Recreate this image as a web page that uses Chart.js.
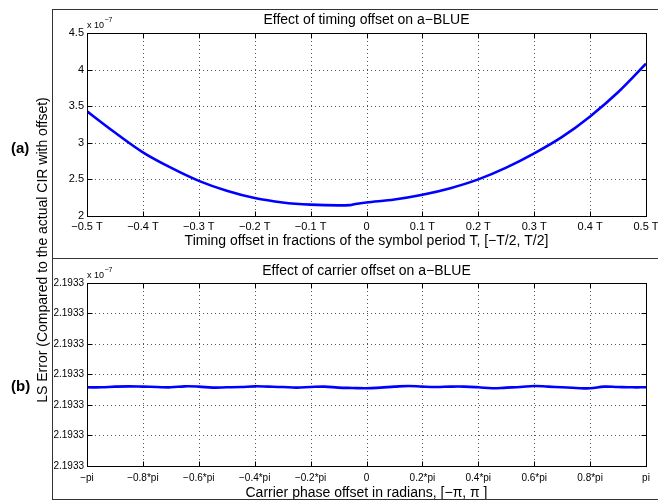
<!DOCTYPE html>
<html>
<head>
<meta charset="utf-8">
<script src="https://cdn.jsdelivr.net/npm/chart.js@4/dist/chart.umd.min.js"></script>
<style>
body { margin: 0; background: #fff; width: 658px; height: 502px; overflow: hidden; position: relative; font-family: "Liberation Sans", Arial, sans-serif; }
canvas { position: absolute; left: 0; }
#top { top: 0; }
#bot { top: 258px; }
.frame { position: absolute; pointer-events: none; }
#ylab { position: absolute; left: 42px; top: 250px; font-size: 14px; white-space: nowrap; transform: translate(-50%, -50%) rotate(-90deg); }
.tag { position: absolute; left: 11px; font-size: 15px; font-weight: bold; }
</style>
</head>
<body>
<canvas id="top" width="658" height="258"></canvas>
<canvas id="bot" width="658" height="244"></canvas>
<div class="frame" style="left:52px;top:9px;width:700px;height:489px;border:1px solid #333;"></div>
<div class="frame" style="left:52px;top:258px;width:700px;height:0;border-top:1px solid #333;"></div>
<div id="ylab">LS Error (Compared to the actual CIR with offset)</div>
<div class="tag" style="top:139px;">(a)</div>
<div class="tag" style="top:377px;">(b)</div>
<script>
// (a) timing offset, fractions of T ; LS error in units of 1e-7
const timingOffset = [-0.5, -0.45, -0.4, -0.35, -0.3, -0.25, -0.2, -0.15, -0.1, -0.05, -0.03, -0.02, 0, 0.05, 0.1, 0.15, 0.2, 0.25, 0.3, 0.35, 0.4, 0.45, 0.5];
const timingError = [3.43, 3.14, 2.87, 2.66, 2.48, 2.345, 2.245, 2.185, 2.155, 2.145, 2.148, 2.165, 2.185, 2.225, 2.29, 2.38, 2.5, 2.66, 2.855, 3.08, 3.36, 3.69, 4.08];
const xTicksA = [-0.5, -0.4, -0.3, -0.2, -0.1, 0, 0.1, 0.2, 0.3, 0.4, 0.5];
const xLabelsA = ['−0.5 T', '−0.4 T', '−0.3 T', '−0.2 T', '−0.1 T', '0', '0.1 T', '0.2 T', '0.3 T', '0.4 T', '0.5 T'];
const yTicksA = [2, 2.5, 3, 3.5, 4, 4.5];
const yLabelsA = ['2', '2.5', '3', '3.5', '4', '4.5'];

// (b) carrier phase offset, multiples of pi ; LS error in units of 1e-7
const phaseOffset = [-1, -0.95, -0.9, -0.85, -0.8, -0.75, -0.7, -0.65, -0.6, -0.55, -0.5, -0.45, -0.4, -0.35, -0.3, -0.25, -0.2, -0.15, -0.1, -0.05, 0,
  0.05, 0.1, 0.15, 0.2, 0.25, 0.3, 0.35, 0.4, 0.45, 0.5, 0.55, 0.6, 0.65, 0.7, 0.75, 0.8, 0.85, 0.9, 0.95, 1];
const phaseError = [2.19331290, 2.19331290, 2.19331301, 2.19331306, 2.19331301, 2.19331295, 2.19331290, 2.19331306, 2.19331301, 2.19331285,
  2.19331290, 2.19331295, 2.19331306, 2.19331301, 2.19331295, 2.19331285, 2.19331295, 2.19331301, 2.19331285, 2.19331279, 2.19331274,
  2.19331285, 2.19331301, 2.19331312, 2.19331301, 2.19331295, 2.19331301, 2.19331301, 2.19331290, 2.19331274, 2.19331285,
  2.19331295, 2.19331312, 2.19331301, 2.19331290, 2.19331279, 2.19331274, 2.19331301, 2.19331295, 2.19331290, 2.19331290];
const xTicksB = [-1, -0.8, -0.6, -0.4, -0.2, 0, 0.2, 0.4, 0.6, 0.8, 1];
const xLabelsB = ['−pi', '−0.8*pi', '−0.6*pi', '−0.4*pi', '−0.2*pi', '0', '0.2*pi', '0.4*pi', '0.6*pi', '0.8*pi', 'pi'];
const yTicksB = [2.193300, 2.193305, 2.193310, 2.193315, 2.193320, 2.193325, 2.193330];
const yLabelsB = yTicksB.map(v => v.toFixed(4));

const FONT = '"Liberation Sans", Arial, sans-serif';

// MATLAB-style axes: dotted grid, full box, inward ticks, labels and titles
const matlabAxes = {
  id: 'matlabAxes',
  beforeDatasetsDraw(chart, args, o) {
    const { ctx, chartArea: a, scales: { x, y } } = chart;
    ctx.save();
    ctx.strokeStyle = '#555';
    ctx.lineWidth = 1;
    ctx.setLineDash([1, 3]);
    ctx.beginPath();
    o.xTicks.forEach(v => {
      const px = Math.round(x.getPixelForValue(v)) + 0.5;
      ctx.moveTo(px, a.top); ctx.lineTo(px, a.bottom);
    });
    o.yTicks.forEach(v => {
      const py = Math.round(y.getPixelForValue(v)) + 0.5;
      ctx.moveTo(a.left, py); ctx.lineTo(a.right, py);
    });
    ctx.stroke();
    ctx.restore();
  },
  afterDatasetsDraw(chart, args, o) {
    const { ctx, chartArea: a, scales: { x, y } } = chart;
    const L = Math.round(a.left) + 0.5, R = Math.round(a.right) + 0.5;
    const T = Math.round(a.top) + 0.5, B = Math.round(a.bottom) + 0.5;
    ctx.save();
    ctx.strokeStyle = '#000';
    ctx.lineWidth = 1;
    ctx.strokeRect(L, T, R - L, B - T);
    ctx.beginPath();
    o.xTicks.forEach(v => {
      const px = Math.round(x.getPixelForValue(v)) + 0.5;
      ctx.moveTo(px, B); ctx.lineTo(px, B - 5);
      ctx.moveTo(px, T); ctx.lineTo(px, T + 5);
    });
    o.yTicks.forEach(v => {
      const py = Math.round(y.getPixelForValue(v)) + 0.5;
      ctx.moveTo(L, py); ctx.lineTo(L + 5, py);
      ctx.moveTo(R, py); ctx.lineTo(R - 5, py);
    });
    ctx.stroke();

    ctx.fillStyle = '#000';
    ctx.textBaseline = 'middle';
    ctx.textAlign = 'center';
    ctx.font = o.tickSize + 'px ' + FONT;
    o.xTicks.forEach((v, i) => ctx.fillText(o.xLabels[i], x.getPixelForValue(v), a.bottom + o.xTickGap));
    ctx.textAlign = 'right';
    o.yTicks.forEach((v, i) => ctx.fillText(o.yLabels[i], a.left - 3, y.getPixelForValue(v)));

    ctx.textAlign = 'center';
    ctx.font = '14px ' + FONT;
    const cx = (a.left + a.right) / 2;
    ctx.fillText(o.title, cx, o.titleY);
    ctx.fillText(o.xTitle, cx, o.xTitleY);

    // exponent note above the y axis
    ctx.textAlign = 'left';
    ctx.font = '9px ' + FONT;
    ctx.fillText('x 10', a.left, a.top - 7);
    const w = ctx.measureText('x 10').width;
    ctx.font = '7px ' + FONT;
    ctx.fillText('−7', a.left + w + 0.5, a.top - 13);
    ctx.restore();
  }
};

function fixedAxes(yw, xh) {
  return {
    x: { type: 'linear', display: true, grid: { display: false }, border: { display: false }, ticks: { display: false },
         afterFit: s => { s.height = xh; } },
    y: { type: 'linear', display: true, grid: { display: false }, border: { display: false }, ticks: { display: false },
         afterFit: s => { s.width = yw; } }
  };
}

const scalesA = fixedAxes(87, 42);
scalesA.x.min = -0.5; scalesA.x.max = 0.5;
scalesA.y.min = 2; scalesA.y.max = 4.5;

new Chart(document.getElementById('top'), {
  type: 'line',
  data: { datasets: [{ data: timingOffset.map((t, i) => ({ x: t, y: timingError[i] })),
    borderColor: '#0000ff', borderWidth: 2.6, pointRadius: 0, cubicInterpolationMode: 'monotone', fill: false }] },
  options: {
    responsive: false, animation: false,
    layout: { padding: { top: 33, right: 12, left: 0, bottom: 0 } },
    scales: scalesA,
    plugins: {
      legend: { display: false }, tooltip: { enabled: false },
      matlabAxes: { xTicks: xTicksA, xLabels: xLabelsA, yTicks: yTicksA, yLabels: yLabelsA, tickSize: 11, xTickGap: 11,
        title: 'Effect of timing offset on a−BLUE', titleY: 20,
        xTitle: 'Timing offset in fractions of the symbol period T, [−T/2, T/2]', xTitleY: 241 }
    }
  },
  plugins: [matlabAxes]
});

const scalesB = fixedAxes(87, 36);
scalesB.x.min = -1; scalesB.x.max = 1;
scalesB.y.min = 2.1933; scalesB.y.max = 2.19333;

new Chart(document.getElementById('bot'), {
  type: 'line',
  data: { datasets: [{ data: phaseOffset.map((p, i) => ({ x: p, y: phaseError[i] })),
    borderColor: '#0000ff', borderWidth: 2.6, pointRadius: 0, tension: 0.4, fill: false }] },
  options: {
    responsive: false, animation: false,
    layout: { padding: { top: 25, right: 12, left: 0, bottom: 0 } },
    scales: scalesB,
    plugins: {
      legend: { display: false }, tooltip: { enabled: false },
      matlabAxes: { xTicks: xTicksB, xLabels: xLabelsB, yTicks: yTicksB, yLabels: yLabelsB, tickSize: 10, xTickGap: 12,
        title: 'Effect of carrier offset on a−BLUE', titleY: 13,
        xTitle: 'Carrier phase offset in radians, [−π, π ]', xTitleY: 235 }
    }
  },
  plugins: [matlabAxes]
});
</script>
</body>
</html>
